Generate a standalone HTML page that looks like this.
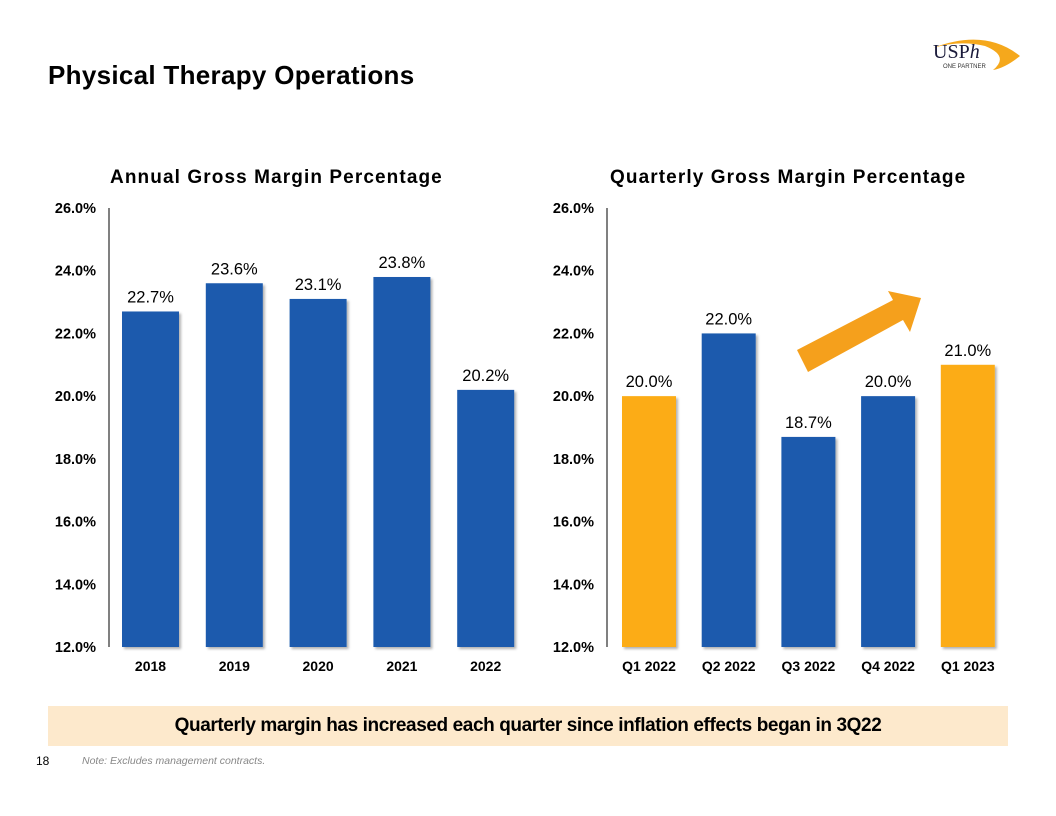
<!DOCTYPE html>
<html><head><meta charset="utf-8"><style>
body{margin:0;width:1056px;height:816px;background:#fff;font-family:"Liberation Sans",Arial,sans-serif;position:relative;overflow:hidden}
.t{position:absolute}
</style></head><body>
<div class="t" style="left:48px;top:60px;font-size:26px;font-weight:bold;color:#000;letter-spacing:0.3px">Physical Therapy Operations</div>
<svg class="t" style="left:925px;top:28px" width="100" height="45">
<path d="M8 20 Q60 0 95 28 Q80 40 68 42 Q85 28 60 18 Q35 12 8 20Z" fill="#f5a81c"/>
<text x="8" y="30" font-family="Liberation Serif" font-size="20" fill="#1a1a3a">USP<tspan font-style="italic">h</tspan></text>
<text x="18" y="40" font-size="6" fill="#333">ONE PARTNER</text>
</svg>
<svg class="t" style="left:0;top:0" width="1056" height="700">
<defs><filter id="sh"><feDropShadow dx="2" dy="2" stdDeviation="1.2" flood-opacity="0.3"/></filter></defs>
<g id="c1"></g>
<g id="c2"></g>
<polygon points="797,350 893,300 888,291 921,298 910,332 903,320 808,372" fill="#f5a01c"/>
</svg>
<div class="t" style="left:48px;top:706px;width:960px;height:40px;background:#fde9cc;font-size:19px;font-weight:bold;line-height:40px;text-align:center;letter-spacing:-0.4px;white-space:nowrap">Quarterly margin has increased each quarter since inflation effects began in 3Q22</div>
<div class="t" style="left:36px;top:754px;font-size:12px">18</div>
<div class="t" style="left:82px;top:755px;font-size:10.5px;font-style:italic;color:#888">Note: Excludes management contracts.</div>
<script>
const annualCats=["2018","2019","2020","2021","2022"];
const annualVals=[22.7,23.6,23.1,23.8,20.2];
const qCats=["Q1 2022","Q2 2022","Q3 2022","Q4 2022","Q1 2023"];
const qVals=[20.0,22.0,18.7,20.0,21.0];
const qColors=["#fcac14","#1b5aad","#1b5aad","#1b5aad","#fcac14"];
const yTicks=[12,14,16,18,20,22,24,26];
const NS="http://www.w3.org/2000/svg";
function mk(p,t,a,txt){const e=document.createElementNS(NS,t);for(const k in a)e.setAttribute(k,a[k]);if(txt!==undefined)e.textContent=txt;p.appendChild(e);return e;}
function y(v){return 647-(v-12)*(439/14);}
function draw(gid,title,titleX,ax,x0,step,bw,cats,vals,cols){
 const g=document.getElementById(gid);
 const t=mk(g,'text',{x:titleX,y:183,'font-size':19,'font-weight':'bold','letter-spacing':1.1,'font-family':'Liberation Sans'},title);
 
 const a=mk(g,'line',{x1:ax,y1:208,x2:ax,y2:647,stroke:'#000','stroke-width':1});
 
 yTicks.forEach(v=>{const l=mk(g,'text',{x:ax-13,y:y(v)+5,'font-size':14.5,'font-weight':'bold','text-anchor':'end','font-family':'Liberation Sans'},v.toFixed(1)+'%');
  });
 cats.forEach((c,i)=>{const x=x0+i*step;
  const r=mk(g,'rect',{x:x,y:y(vals[i]),width:bw,height:647-y(vals[i]),fill:cols[i],filter:'url(#sh)'});
  
  const v=mk(g,'text',{x:x+bw/2,y:y(vals[i])-9,'font-size':16.5,'text-anchor':'middle','font-family':'Liberation Sans'},vals[i].toFixed(1)+'%');
  
  const xl=mk(g,'text',{x:x+bw/2,y:671,'font-size':14,'font-weight':'bold','text-anchor':'middle','font-family':'Liberation Sans'},c);
  });
}
draw('c1','Annual Gross Margin Percentage',110,109,122,83.8,57,annualCats,annualVals,annualCats.map(()=>"#1b5aad"));
draw('c2','Quarterly Gross Margin Percentage',610,607,622,79.7,54,qCats,qVals,qColors);
</script>
</body></html>
